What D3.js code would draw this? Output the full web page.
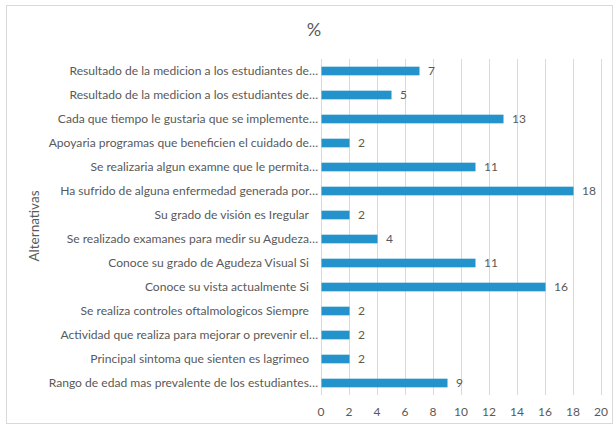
<!DOCTYPE html>
<html>
<head>
<meta charset="utf-8">
<script src="https://cdn.jsdelivr.net/npm/d3@7"></script>
<style>
  body { margin: 0; background: #fff; }
  svg { font-family: Lato, "Open Sans", sans-serif; }
</style>
</head>
<body>
<div id="chart"></div>
<script>
// categories top to bottom, as they appear in the chart
const categories = [
  "Resultado de la medicion a los estudiantes de…",
  "Resultado de la medicion a los estudiantes de…",
  "Cada que tiempo le gustaria que se implemente…",
  "Apoyaria programas que beneficien el cuidado de…",
  "Se realizaria algun examne que le permita…",
  "Ha sufrido de alguna enfermedad generada por…",
  "Su grado de visión es Iregular",
  "Se realizado examanes para medir su Agudeza…",
  "Conoce su grado de Agudeza Visual Si",
  "Conoce su vista actualmente Si",
  "Se realiza controles oftalmologicos Siempre",
  "Actividad que realiza para mejorar o prevenir el…",
  "Principal sintoma que sienten es lagrimeo",
  "Rango de edad mas prevalente de los estudiantes…"
];
const values = [7, 5, 13, 2, 11, 18, 2, 4, 11, 16, 2, 2, 2, 9];
const xTicks = [0, 2, 4, 6, 8, 10, 12, 14, 16, 18, 20];
const chartTitle = "%";
const yTitle = "Alternativas";

const W = 615, H = 426;
const margin = { top: 59, right: 14, bottom: 31, left: 321 };

const svg = d3.select("#chart").append("svg")
    .attr("width", W)
    .attr("height", H);

// chart border
svg.append("rect")
    .attr("x", 6.5).attr("y", 5.5)
    .attr("width", W - 9).attr("height", H - 8)
    .attr("fill", "#fff")
    .attr("stroke", "#d9d9d9");

const x = d3.scaleLinear()
    .domain([0, 20])
    .range([margin.left, 601]);

const y = d3.scaleBand()
    .domain(d3.range(categories.length))
    .range([margin.top, H - margin.bottom])
    .paddingInner(0.64)
    .paddingOuter(0.32);

// vertical gridlines
svg.append("g")
    .selectAll("line")
    .data(xTicks)
    .enter().append("line")
    .attr("x1", d => Math.round(x(d)) + 0.5)
    .attr("x2", d => Math.round(x(d)) + 0.5)
    .attr("y1", margin.top)
    .attr("y2", H - margin.bottom)
    .attr("stroke", "#d9d9d9")
    .attr("stroke-width", 1);

// tick labels
svg.append("g")
    .selectAll("text")
    .data(xTicks)
    .enter().append("text")
    .attr("x", d => x(d))
    .attr("y", 416)
    .attr("text-anchor", "middle")
    .attr("fill", "#595959")
    .style("font-size", "12px")
    .text(d => d);

// bars
svg.append("g")
    .selectAll("rect")
    .data(values)
    .enter().append("rect")
    .attr("x", x(0) + 0.5)
    .attr("y", (d, i) => y(i))
    .attr("width", d => x(d) - x(0))
    .attr("height", y.bandwidth())
    .attr("fill", "#2492cb");

// value labels
svg.append("g")
    .selectAll("text")
    .data(values)
    .enter().append("text")
    .attr("x", d => x(d) + 9)
    .attr("y", (d, i) => y(i) + y.bandwidth() / 2)
    .attr("dy", "0.36em")
    .attr("fill", "#595959")
    .style("font-size", "12px")
    .text(d => d);

// category labels (full labels sit a little left, like a trailing space)
svg.append("g")
    .selectAll("text")
    .data(categories)
    .enter().append("text")
    .attr("x", d => d.endsWith("…") ? 318 : 309)
    .attr("y", (d, i) => y(i) + y.bandwidth() / 2)
    .attr("dy", "0.36em")
    .attr("text-anchor", "end")
    .attr("fill", "#595959")
    .style("font-size", "12.1px")
    .text(d => d);

// chart title
svg.append("text")
    .attr("x", 314)
    .attr("y", 36)
    .attr("text-anchor", "middle")
    .attr("fill", "#595959")
    .style("font-size", "18px")
    .text(chartTitle);

// axis title
svg.append("text")
    .attr("transform", "translate(39," + 226 + ")rotate(-90)")
    .attr("text-anchor", "middle")
    .attr("fill", "#595959")
    .style("font-size", "13.5px")
    .text(yTitle);
</script>
</body>
</html>
